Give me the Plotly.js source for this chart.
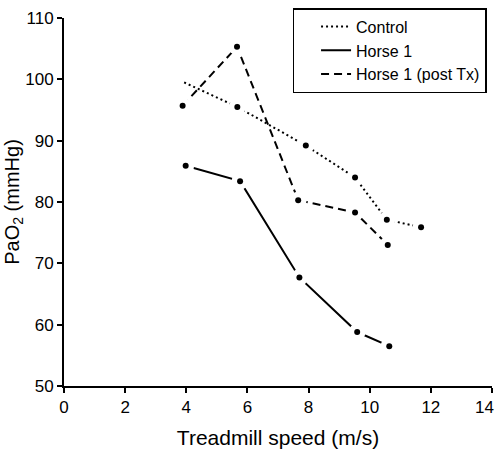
<!DOCTYPE html>
<html>
<head>
<meta charset="utf-8">
<script src="https://cdn.plot.ly/plotly-3.0.1.min.js"></script>
<style>html,body{margin:0;padding:0;background:#fff}#chart{width:497px;height:449px}</style>
</head>
<body>
<div id="chart"></div>
<script>
// Data
const controlX = [3.93, 5.67, 7.91, 9.52, 10.56, 11.68];
const controlY = [99.5, 95.5, 89.2, 84.0, 77.1, 75.9];
const horse1X = [3.98, 5.76, 7.70, 9.59, 10.64];
const horse1Y = [85.9, 83.4, 67.7, 58.8, 56.5];
const postTxX = [3.88, 5.66, 7.66, 9.52, 10.59];
const postTxY = [95.7, 105.3, 80.3, 78.3, 73.0];
const seriesNames = ["Control", "Horse 1", "Horse 1 (post Tx)"];
const xTicks = [0, 2, 4, 6, 8, 10, 12, 14];
const yTicks = [50, 60, 70, 80, 90, 100, 110];

const FONT = "Liberation Sans, Arial, sans-serif";
const lineStyle = (dash) => ({color: "#000", width: 2, dash: dash});

// Markers drawn for all points except control's first (which has none)
const mkX = [].concat(controlX.slice(1), horse1X, postTxX);
const mkY = [].concat(controlY.slice(1), horse1Y, postTxY);

const traces = [
  {x: controlX, y: controlY, name: seriesNames[0], mode: "lines", line: lineStyle("2px,3px")},
  {x: horse1X, y: horse1Y, name: seriesNames[1], mode: "lines", line: lineStyle("solid")},
  {x: postTxX, y: postTxY, name: seriesNames[2], mode: "lines", line: lineStyle("8px,5px")},
  {x: mkX, y: mkY, mode: "markers", showlegend: false, hoverinfo: "skip",
   marker: {color: "#fff", size: 17, line: {width: 0}}},
  {x: mkX, y: mkY, mode: "markers", showlegend: false,
   marker: {color: "#000", size: 6, line: {width: 0}}}
];

const axisBase = {
  showgrid: false, zeroline: false, showline: true, linecolor: "#000", linewidth: 2,
  ticks: "outside", ticklen: 5, tickwidth: 2, tickcolor: "#000",
  tickfont: {family: FONT, size: 17, color: "#000"}
};

// last x tick label is placed inside the window (it would overflow the edge)
const lastX = xTicks[xTicks.length - 1];
const xText = xTicks.map((v, i) => i === xTicks.length - 1 ? "" : String(v));

const layout = {
  width: 497, height: 449,
  margin: {l: 64, r: 5, t: 18, b: 63},
  paper_bgcolor: "#fff", plot_bgcolor: "#fff",
  font: {family: FONT, color: "#000"},
  showlegend: true,
  legend: {
    x: 0.534, y: 1.027, xanchor: "left", yanchor: "top",
    bordercolor: "#000", borderwidth: 1.5, bgcolor: "#fff",
    font: {family: FONT, size: 16, color: "#000"},
    indentation: 22,
    tracegroupgap: 0
  },
  annotations: [{
    x: lastX, xref: "x", y: 0, yref: "paper", yanchor: "top", xanchor: "right",
    xshift: 4, yshift: -10, text: String(lastX), showarrow: false,
    font: {family: FONT, size: 17, color: "#000"}
  }],
  xaxis: Object.assign({}, axisBase, {
    range: [0, 14], tickvals: xTicks, ticktext: xText,
    title: {text: "Treadmill speed (m/s)", font: {family: FONT, size: 21, color: "#000"}, standoff: 16}
  }),
  yaxis: Object.assign({}, axisBase, {
    range: [50, 110], tickvals: yTicks, ticktext: yTicks.map(String),
    title: {text: "PaO<sub>2</sub> (mmHg)", font: {family: FONT, size: 20, color: "#000"}, standoff: 0}
  })
};

Plotly.newPlot("chart", traces, layout, {displayModeBar: false, staticPlot: true});
</script>
</body>
</html>
